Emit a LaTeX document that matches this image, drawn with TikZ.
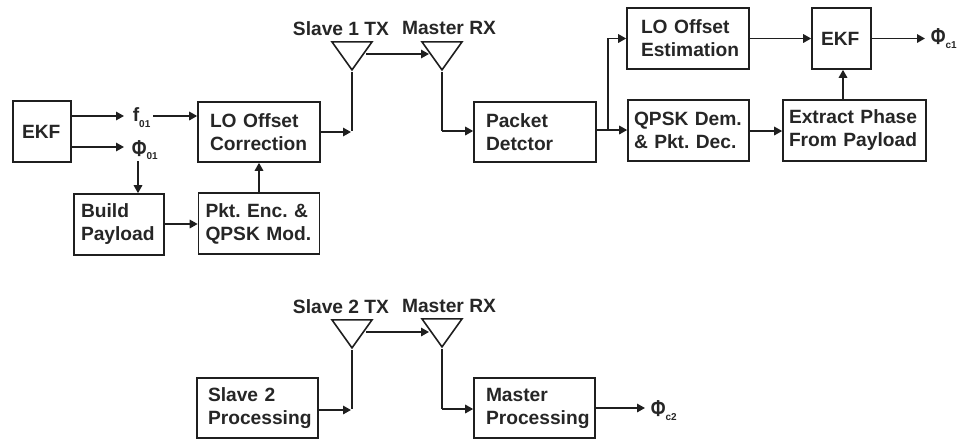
\documentclass[tikz,border=0pt]{standalone}
\usepackage{fontspec}
\setmainfont{Liberation Sans}
\usetikzlibrary{arrows.meta,shapes.geometric}
\tikzset{
  x=1pt,y=-1pt,
  diagram/.style={line width=1.6pt,color=black!88!white,text=black!85!white},
  link/.style={line width=1.6pt,-{Triangle[length=8pt,width=8.5pt]}},
  plain/.style={line width=1.6pt},
  box/.style n args={3}{draw,line width=1.6pt,minimum width=#1pt,minimum height=#2pt,inner ysep=0pt,
    inner xsep=#3pt,text width={#1pt-2*#3pt},align=left,
    font=\frenchspacing\fontsize{19.2}{23}\selectfont\bfseries},
  lbl/.style={inner sep=0pt,font=\frenchspacing\fontsize{19.2}{22}\selectfont\bfseries},
  sym/.style={inner sep=0pt,anchor=base west,font=\fontsize{19.2}{22}\selectfont\bfseries},
  ant/.style={draw,line width=1.6pt,isosceles triangle,isosceles triangle stretches,shape border rotate=-90,
    minimum width=40pt,minimum height=28pt,inner sep=0pt,anchor=apex},
}
\newcommand{\subs}[2]{\raisebox{-#1pt}{\fontsize{10}{10}\selectfont #2}}
\newcommand{\bigphi}{{\fontsize{23}{23}\selectfont\scalebox{0.78}[1]{Φ}}}
\begin{document}
\begin{tikzpicture}[diagram]
\useasboundingbox (0,0) rectangle (959,440);
% top chain
\node[box={58}{61}{9}]   (ekfa) at (42,131.5) {EKF};
\node[box={122}{60}{12}] (loc)  at (259,132) {LO Offset\\Correction};
\node[box={90}{61}{7}]   (bp)   at (119,224.5) {Build\\Payload};
\node[box={121}{61}{7}]  (pkt)  at (259,223.5) {Pkt. Enc. \&\\QPSK Mod.};
\node[box={122}{60}{12}] (det)  at (535,132) {Packet\\Detctor};
\node[box={122}{61}{14}] (est)  at (688,38.5) {LO Offset\\Estimation};
\node[box={121}{61}{6}]  (dem)  at (688.5,130.5) {QPSK Dem.\\\& Pkt. Dec.};
\node[box={59}{61}{9}]   (ekfb) at (841.5,38.5) {EKF};
\node[box={143}{61}{6}]  (ext)  at (854.5,130.5) {Extract Phase\\From Payload};
% bottom chain
\node[box={121}{60}{11}] (sl2)  at (257.5,408) {Slave 2\\Processing};
\node[box={121}{60}{12}] (mp)   at (534.5,408) {Master\\Processing};
% antennas
\node[ant] (tx1) at (352,72) {};
\node[ant] (rx1) at (442,72) {};
\node[ant] (tx2) at (352,350) {};
\node[ant] (rx2) at (442,349) {};
% labels
\node[lbl] (ltx1) at (341,29) {Slave 1 TX};
\node[lbl] (lrx1) at (449,28) {Master RX};
\node[lbl] (ltx2) at (341,307) {Slave 2 TX};
\node[lbl] (lrx2) at (449,306) {Master RX};
\node[sym] (f01) at (132,121) {f\subs{6}{01}};
\node[sym] (p01) at (131,156) {\bigphi\subs{3}{01}};
\node[sym] (pc1) at (930,44) {\bigphi\subs{4}{c1}};
\node[sym] (pc2) at (650,416) {\bigphi\subs{4}{c2}};
% free ends
\coordinate (fin)  at (124,116);
\coordinate (fout) at (153,116);
\coordinate (pin)  at (124,147);
\coordinate (pdn)  at (138,161);
\coordinate (txj1) at (352,132);
\coordinate (txj2) at (352,410);
\coordinate (aout1) at (366,54);
\coordinate (ain1)  at (429,54);
\coordinate (aout2) at (366,332);
\coordinate (ain2)  at (429,332);
\coordinate (rxb1) at (442,131);
\coordinate (rxb2) at (442,409);
\coordinate (jn)   at (608,130);
\coordinate (ex)   at (843,100);
% connectors
\draw[link] (ekfa.east |- fin) -- (fin);
\draw[link] (fout) -- (fout -| loc.west);
\draw[link] (ekfa.east |- pin) -- (pin);
\draw[link] (pdn) -- (pdn |- bp.north);
\draw[link] (bp.east |- 0,224) -- (pkt.west |- 0,224);
\draw[link] (pkt.north) -- (loc.south);
\draw[link] (loc.east |- txj1) -- ([xshift=-1pt]txj1);
\draw[plain] (tx1.apex) -- ([yshift=1pt]txj1);
\draw[link] (aout1) -- (ain1);
\draw[plain] (rx1.apex) -- (rxb1);
\draw[link] (rxb1) -- (rxb1 -| det.west);
\draw[link] (det.east |- jn) -- (jn -| dem.west);
\draw[link] (jn) -- (jn |- est.west) -- (est.west);
\draw[link] (est.east) -- (ekfb.west);
\draw[link] (ekfb.east) -- (925,38.5);
\draw[link] (dem.east |- 0,131) -- (ext.west |- 0,131);
\draw[link] (ex) -- (ex |- ekfb.south);
% bottom connectors
\draw[link] (sl2.east |- txj2) -- ([xshift=-1pt]txj2);
\draw[plain] (tx2.apex) -- ([yshift=1pt]txj2);
\draw[link] (aout2) -- (ain2);
\draw[plain] (rx2.apex) -- (rxb2);
\draw[link] (rxb2) -- (rxb2 -| mp.west);
\draw[link] (mp.east |- 0,408) -- (645,408);
\end{tikzpicture}
\end{document}
